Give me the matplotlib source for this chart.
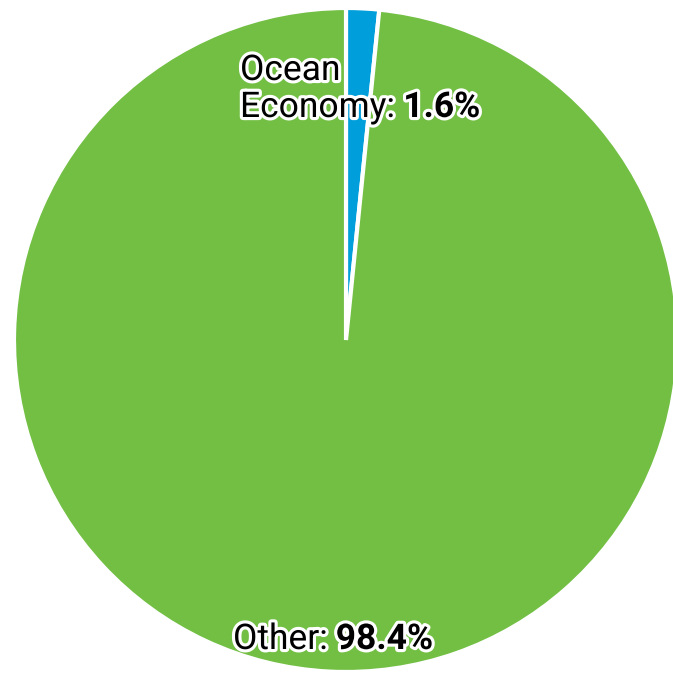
import matplotlib
matplotlib.use("Agg")
import matplotlib.pyplot as plt
import matplotlib.patheffects as pe

labels = ["Ocean Economy", "Other"]
shares = [1.6, 98.4]
colors = ["#009EDB", "#72BF44"]

W, H, DPI = 673, 674, 100
CX, CY, R = 346, 340, 332  # pie centre / radius in pixels

fig = plt.figure(figsize=(W / DPI, H / DPI), dpi=DPI)
ax = fig.add_axes([(CX - R) / W, (H - CY - R) / H, 2 * R / W, 2 * R / H])
ax.pie(shares, colors=colors, startangle=90, counterclock=False, radius=1,
       wedgeprops=dict(edgecolor="white", linewidth=3))
ax.set_xlim(-1, 1)
ax.set_ylim(-1, 1)
ax.set_aspect("equal")
ax.axis("off")

outline = [pe.withStroke(linewidth=4.5, foreground="white")]
font = dict(family="Roboto", fontsize=25.5, color="black", va="baseline", ha="left",
            path_effects=outline)


def to_data(px, py):
    return (px - CX) / R, (CY - py) / R


def label(lines, pct, px, py, step=37):
    t = None
    for i, line in enumerate(lines):
        x, y = to_data(px, py + i * step)
        t = ax.text(x, y, line, **font)
    ax.annotate(f"{pct}%", xy=(1, y), xycoords=(t, "data"), xytext=(6, 0),
                textcoords="offset points", fontweight="bold", **font)


label(["Ocean", "Economy:"], shares[0], 240, 80)
label(["Other:"], shares[1], 233, 649)

fig.savefig("out.png", dpi=DPI)
